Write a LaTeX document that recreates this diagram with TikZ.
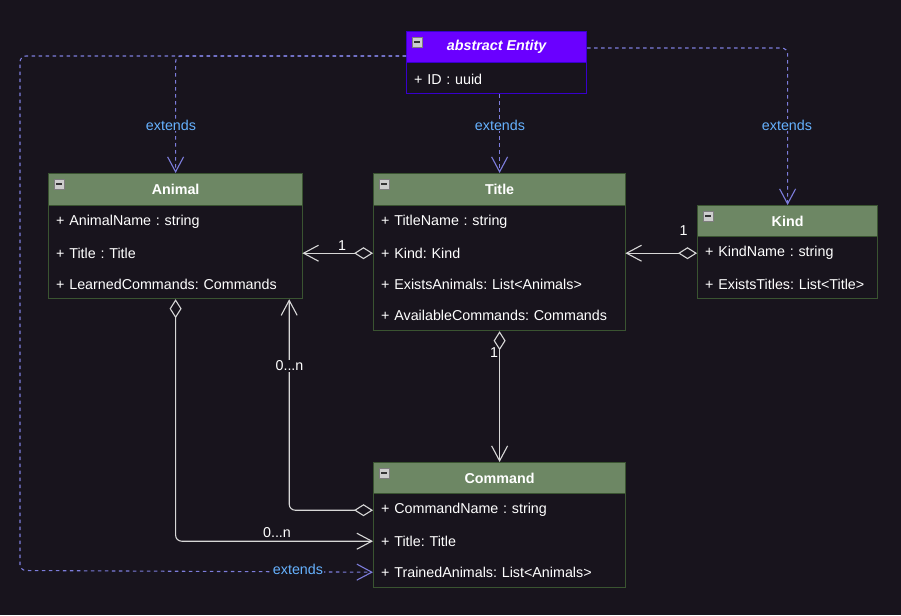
\documentclass[tikz,border=0pt]{standalone}
\usepackage{fontspec}
\setmainfont{Liberation Sans}
\usetikzlibrary{arrows.meta,calc}
\definecolor{bg}{HTML}{18141D}
\definecolor{hgreen}{HTML}{6D8764}
\definecolor{sgreen}{HTML}{3A5431}
\definecolor{hpurple}{HTML}{6A00FF}
\definecolor{spurple}{HTML}{3700CC}
\definecolor{dashc}{RGB}{125,125,220}
\definecolor{extc}{HTML}{66B2FF}
\definecolor{linec}{RGB}{215,215,215}
\definecolor{iconf}{RGB}{205,205,205}
\definecolor{icond}{RGB}{125,125,125}
\frenchspacing
\begin{document}
\begin{tikzpicture}[x=1pt,y=-1pt,
  txt/.style={font=\fontsize{14.3}{16}\selectfont, text=white},
  bodybox/.style={draw=#1, fill=bg, line width=1.2pt, anchor=north west, inner sep=0pt},
  hdrbox/.style={txt, font=\fontsize{14.3}{16}\selectfont\bfseries, draw=#1, line width=1.2pt, anchor=north west, inner sep=0pt},
  rowbox/.style={txt, anchor=north west, minimum height=31pt, inner xsep=8pt, inner ysep=0pt, align=left, yshift=-1.5pt},
  conn/.style={draw=linec, line width=1.1pt, rounded corners=6pt},
  dashl/.style={draw=dashc, line width=1.1pt, dash pattern=on 3.5pt off 3.5pt, rounded corners=6pt},
  barb/.style={-{Straight Barb[length=15pt,width=16pt]}},
  dbarb/.style={{Diamond[open,length=19pt,width=12pt]}-{Straight Barb[length=15pt,width=16pt]}},
  lbl/.style={txt, inner sep=1pt},
  extl/.style={font=\fontsize{14.3}{16}\selectfont, text=extc, fill=bg, inner sep=1pt}
]
\fill[bg] (0,0) rectangle (901,615);
\useasboundingbox (0,0) rectangle (901,615);

% ---------- Entity ----------
\node[bodybox=spurple, minimum width=180pt, minimum height=62pt] (entity) at (406,31) {};
\node[hdrbox=spurple, fill=hpurple, minimum width=180pt, minimum height=31pt] (entityH) at (406,31) {\itshape abstract Entity};
\node[rowbox, text width=164pt] (entity1) at (406,62) {+ ID : uuid};

% ---------- Animal ----------
\node[bodybox=sgreen, minimum width=254pt, minimum height=125pt] (animal) at (48,173) {};
\node[hdrbox=sgreen, fill=hgreen, minimum width=254pt, minimum height=32pt] (animalH) at (48,173) {Animal};
\node[rowbox, text width=238pt] (animal1) at (48,205) {+ AnimalName : string};
\node[rowbox, text width=238pt] (animal2) at (48,236) {+ Title : Title};
\node[rowbox, text width=238pt] (animal3) at (48,267) {+ LearnedCommands: Commands};

% ---------- Title ----------
\node[bodybox=sgreen, minimum width=252pt, minimum height=157pt] (title) at (373,173) {};
\node[hdrbox=sgreen, fill=hgreen, minimum width=252pt, minimum height=32pt] (titleH) at (373,173) {Title};
\node[rowbox, text width=236pt] (title1) at (373,205) {+ TitleName : string};
\node[rowbox, text width=236pt] (title2) at (373,236) {+ Kind: Kind};
\node[rowbox, text width=236pt] (title3) at (373,267) {+ ExistsAnimals: List<Animals>};
\node[rowbox, text width=236pt] (title4) at (373,298) {+ AvailableCommands: Commands};

% ---------- Kind ----------
\node[bodybox=sgreen, minimum width=180pt, minimum height=93pt] (kind) at (697,205) {};
\node[hdrbox=sgreen, fill=hgreen, minimum width=180pt, minimum height=31pt] (kindH) at (697,205) {Kind};
\node[rowbox, text width=164pt] (kind1) at (697,236) {+ KindName : string};
\node[rowbox, text width=164pt] (kind2) at (697,267) {+ ExistsTitles: List<Title>};

% ---------- Command ----------
\node[bodybox=sgreen, minimum width=252pt, minimum height=125pt] (command) at (373,462) {};
\node[hdrbox=sgreen, fill=hgreen, minimum width=252pt, minimum height=31pt] (commandH) at (373,462) {Command};
\node[rowbox, text width=236pt] (cmd1) at (373,493) {+ CommandName : string};
\node[rowbox, text width=236pt] (cmd2) at (373,524) {+ Title: Title};
\node[rowbox, text width=236pt] (cmd3) at (373,555) {+ TrainedAnimals: List<Animals>};

% ---------- collapse icons ----------
\foreach \bx/\by in {406/31, 48/173, 373/173, 697/205, 373/462}{
  \draw[fill=iconf, draw=icond, line width=0.8pt] (\bx+6,\by+6) rectangle ++(10,10);
  \draw[black!80, line width=1.6pt] (\bx+8,\by+11) -- (\bx+14,\by+11);
}

% ---------- solid associations ----------
\draw[conn, dbarb] (title2.west) -- (animal2.east);
\node[lbl] (n1a) at (342,246) {1};
\draw[conn, dbarb] (kind1.west) -- (title2.east);
\node[lbl] (n1b) at (683.5,231) {1};
\draw[conn, dbarb] (title.south) -- (command.north);
\node[lbl] (n1c) at (494,353) {1};
\draw[conn, dbarb] (animal.south) |- (cmd2.west);
\node[lbl] (n0a) at (277,533) {0...n};
\draw[conn, dbarb] (cmd1.west) -| ($(animal.south east)+(-14,0)$);
\node[lbl, fill=bg] (n0b) at (289.5,366) {0...n};

% ---------- extends (dashed) ----------
\coordinate (EL) at ($(entity.north west)+(0,25)$);
\coordinate (ER) at ($(entity.north east)+(0,17)$);
\coordinate (cornerL) at (20,570.5);
\draw[dashl, barb] (EL) -| (cornerL) -- (cmd3.west);
\draw[dashl, barb] (EL) -| (animal.north);
\draw[dashl, barb] (title.north |- entity.south) -- (title.north);
\draw[dashl, barb] (ER) -| (kind.north);
\node[extl] (ext1) at (171,125) {extends};
\node[extl] (ext2) at (500,125) {extends};
\node[extl] (ext3) at (787,125) {extends};
\node[extl] (ext4) at (298,569) {extends};
\end{tikzpicture}
\end{document}
